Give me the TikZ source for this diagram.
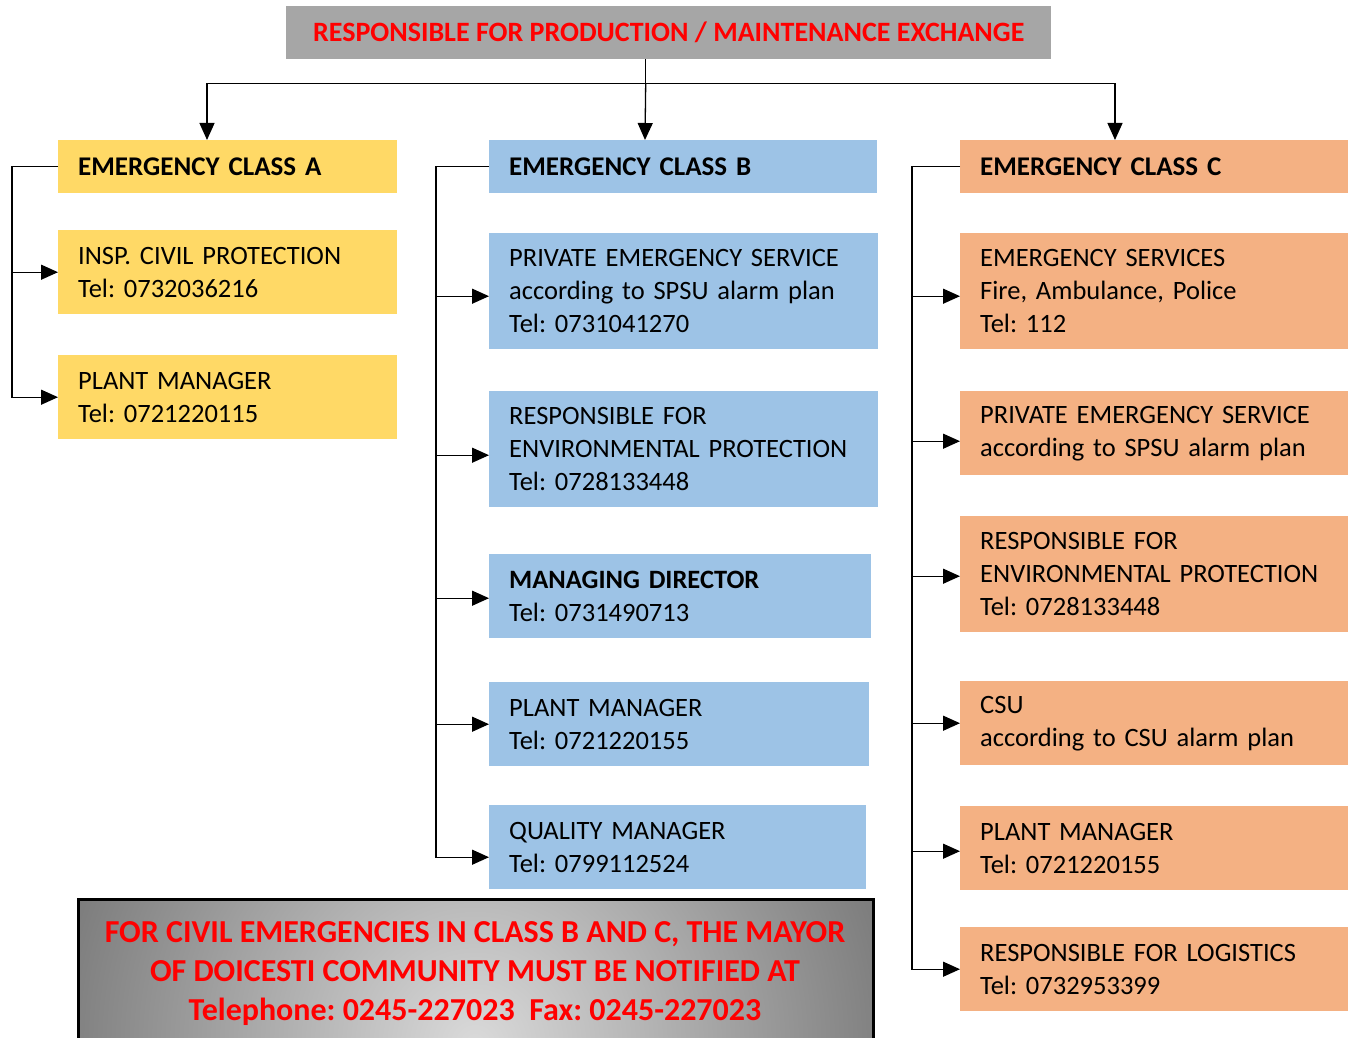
\documentclass[tikz,border=0pt]{standalone}
\usepackage{fontspec}
\setmainfont{Carlito}
\usetikzlibrary{arrows.meta,calc}
\definecolor{cA}{HTML}{FFD966}
\definecolor{cB}{HTML}{9DC3E6}
\definecolor{cC}{HTML}{F4B183}
\definecolor{topgray}{HTML}{A6A6A6}
\definecolor{txtred}{HTML}{FF0000}
\definecolor{shadein}{HTML}{DADADA}
\definecolor{shadeout}{HTML}{585858}
\pgfdeclareradialshading{noteshade}{\pgfpointorigin}{color(0bp)=(shadein); color(25bp)=(shadeout); color(50bp)=(shadeout)}
\frenchspacing
\begin{document}
\begin{tikzpicture}[x=1pt,y=-1pt,
  bx/.style={anchor=north west, inner xsep=20pt, inner ysep=0pt, align=left,
    font=\fontsize{26.5}{33}\selectfont, text=black},
  hd/.style={bx, minimum height=53pt, font=\fontsize{27}{33}\selectfont\bfseries},
  two/.style={minimum height=84pt},
  three/.style={minimum height=116pt},
  ln/.style={line width=1.3pt},
  arr/.style={ln, -{Triangle[length=17pt,width=15pt]}}]
\useasboundingbox (0,0) rectangle (1354,1038);
\clip (0,0) rectangle (1354,1038);

% top box
\node[anchor=north west, fill=topgray, minimum width=765pt, minimum height=53pt, inner sep=0pt,
  font=\fontsize{28}{33}\selectfont\bfseries, text=txtred] (top) at (286,6)
  {RESPONSIBLE FOR PRODUCTION / MAINTENANCE EXCHANGE};

% column A
\node[hd, fill=cA, text width=299pt] (hA) at (58,140) {EMERGENCY CLASS A};
\node[bx, two, fill=cA, text width=299pt] (a1) at (58,230) {INSP. CIVIL PROTECTION\\Tel: 0732036216};
\node[bx, two, fill=cA, text width=299pt] (a2) at (58,355) {PLANT MANAGER\\Tel: 0721220115};

% column B
\node[hd, fill=cB, text width=348pt] (hB) at (489,140) {EMERGENCY CLASS B};
\node[bx, three, fill=cB, text width=349pt] (b1) at (489,233) {PRIVATE EMERGENCY SERVICE\\according to SPSU alarm plan\\Tel: 0731041270};
\node[bx, three, fill=cB, text width=349pt] (b2) at (489,391) {RESPONSIBLE FOR\\ENVIRONMENTAL PROTECTION\\Tel: 0728133448};
\node[bx, two, fill=cB, text width=342pt] (b3) at (489,554) {\textbf{MANAGING DIRECTOR}\\Tel: 0731490713};
\node[bx, two, fill=cB, text width=340pt] (b4) at (489,682) {PLANT MANAGER\\Tel: 0721220155};
\node[bx, two, fill=cB, text width=337pt] (b5) at (489,805) {QUALITY MANAGER\\Tel: 0799112524};

% column C
\node[hd, fill=cC, text width=348pt] (hC) at (960,140) {EMERGENCY CLASS C};
\node[bx, three, fill=cC, text width=348pt] (c1) at (960,233) {EMERGENCY SERVICES\\Fire, Ambulance, Police\\Tel: 112};
\node[bx, two, fill=cC, text width=348pt] (c2) at (960,391) {PRIVATE EMERGENCY SERVICE\\according to SPSU alarm plan};
\node[bx, three, fill=cC, text width=348pt] (c3) at (960,516) {RESPONSIBLE FOR\\ENVIRONMENTAL PROTECTION\\Tel: 0728133448};
\node[bx, two, fill=cC, text width=348pt] (c4) at (960,681) {CSU\\according to CSU alarm plan};
\node[bx, two, fill=cC, text width=348pt] (c5) at (960,806) {PLANT MANAGER\\Tel: 0721220155};
\node[bx, two, fill=cC, text width=348pt] (c6) at (960,927) {RESPONSIBLE FOR LOGISTICS\\Tel: 0732953399};

% top connectors
\coordinate (t0) at ([xshift=-23pt]top.south);
\coordinate (j) at ($(t0)+(0,24)$);
\draw[ln] (t0) -- (j);
\draw[arr] (j) -| ([xshift=149pt]hA.north west);
\draw[arr] (j) -- ([xshift=156pt]hB.north west);
\draw[arr] (j) -| ([xshift=155pt]hC.north west);

% column A connectors
\draw[arr] (hA.west) -- ++(-46,0) |- (a2.west);
\draw[arr] (hA.west) ++(-46,0) |- (a1.west);

% column B connectors
\draw[arr] (hB.west) -- ++(-53,0) |- ([yshift=-10pt]b5.west);
\draw[arr] (hB.west) ++(-53,0) |- ([yshift=-5pt]b1.west);
\draw[arr] (hB.west) ++(-53,0) |- ([yshift=-6pt]b2.west);
\draw[arr] (hB.west) ++(-53,0) |- ([yshift=-2pt]b3.west);
\draw[arr] (hB.west) ++(-53,0) |- (b4.west);

% column C connectors
\draw[arr] (hC.west) -- ++(-48,0) |- (c6.west);
\draw[arr] (hC.west) ++(-48,0) |- ([yshift=-5pt]c1.west);
\draw[arr] (hC.west) ++(-48,0) |- ([yshift=-8pt]c2.west);
\draw[arr] (hC.west) ++(-48,0) |- ([yshift=-2pt]c3.west);
\draw[arr] (hC.west) ++(-48,0) |- (c4.west);
\draw[arr] (hC.west) ++(-48,0) |- ([yshift=-3pt]c5.west);

% bottom notice
\node[anchor=north west, fill=shadeout, minimum width=795pt, minimum height=180pt, inner sep=0pt]
  (note) at (78,899) {};
\begin{scope}
  \clip (note.north west) rectangle (note.south east);
  \coordinate (sc) at ($(note.north west)+(397,146)$);
  \shade[shading=noteshade] ($(sc)+(-588,-588)$) rectangle ($(sc)+(588,588)$);
\end{scope}
\draw[line width=3pt] (note.south west) -- (note.north west) -- (note.north east) -- (note.south east);
\node[anchor=center, align=center, text=txtred, inner sep=0pt,
  font=\fontsize{32}{39}\selectfont\bfseries] (notetext) at (475,974)
  {FOR CIVIL EMERGENCIES IN CLASS B AND C, THE MAYOR\\OF DOICESTI COMMUNITY MUST BE NOTIFIED AT\\Telephone: 0245-227023~~Fax: 0245-227023};
\end{tikzpicture}
\end{document}
